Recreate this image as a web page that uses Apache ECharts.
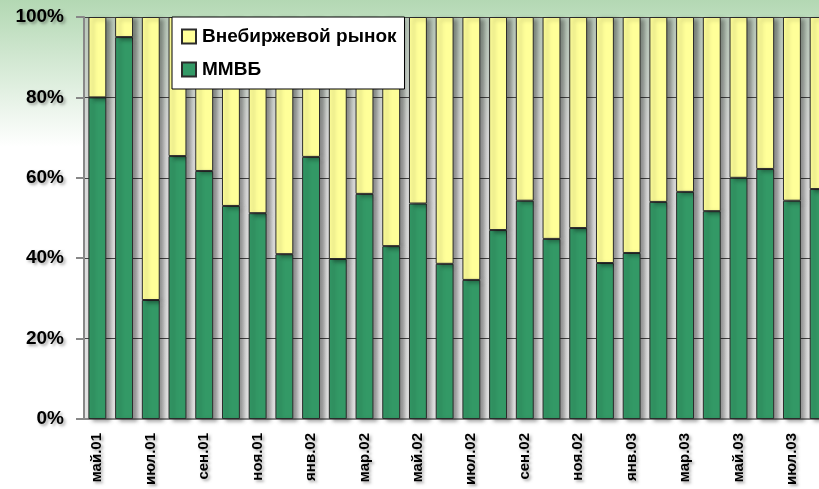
<!DOCTYPE html>
<html>
<head>
<meta charset="utf-8">
<script src="https://cdn.jsdelivr.net/npm/echarts@6/dist/echarts.min.js"></script>
<style>
  html, body { margin: 0; padding: 0; background: #fff; }
  #main { width: 819px; height: 489px; }
</style>
</head>
<body>
<div id="main"></div>
<script>
// месяцы
var months = ['май.01', 'июн.01', 'июл.01', 'авг.01', 'сен.01', 'окт.01', 'ноя.01', 'дек.01',
  'янв.02', 'фев.02', 'мар.02', 'апр.02', 'май.02', 'июн.02', 'июл.02', 'авг.02',
  'сен.02', 'окт.02', 'ноя.02', 'дек.02', 'янв.03', 'фев.03', 'мар.03', 'апр.03',
  'май.03', 'июн.03', 'июл.03', 'авг.03']

// доля ММВБ, %
var mmvb = [80, 95, 29.6, 65.4, 61.7, 53, 51.2, 41, 65.2, 39.8, 56, 43, 53.6, 38.6,
  34.6, 47, 54.3, 44.8, 47.5, 38.8, 41.3, 54, 56.5, 51.7, 60, 62.2, 54.3, 57.2]

// доля внебиржевого рынка, %
var otc = [20, 5, 70.4, 34.6, 38.3, 47, 48.8, 59, 34.8, 60.2, 44, 57, 46.4, 61.4,
  65.4, 53, 45.7, 55.2, 52.5, 61.2, 58.7, 46, 43.5, 48.3, 40, 37.8, 45.7, 42.8]

var yTicks = [0, 20, 40, 60, 80, 100]

var myChart = echarts.init(document.getElementById('main'))

var txtShadow = {
  textShadowColor: 'rgba(0,0,0,0.35)',
  textShadowBlur: 3,
  textShadowOffsetX: 2,
  textShadowOffsetY: 2,
}

var barStyle = {
  borderColor: '#2b2b2b',
  borderWidth: 1,
  shadowColor: 'rgba(0,0,0,0.35)',
  shadowBlur: 4,
  shadowOffsetX: 4,
  shadowOffsetY: 2,
}

var option = {
  animation: false,
  backgroundColor: {
    type: 'linear', x: 0, y: 0, x2: 0, y2: 1,
    colorStops: [
      { offset: 0, color: '#b3d8b3' },
      { offset: 0.3, color: '#ffffff' },
      { offset: 1, color: '#ffffff' },
    ],
  },
  textStyle: { fontFamily: 'Liberation Sans, Arial, sans-serif' },
  legend: {
    orient: 'vertical',
    left: 172,
    top: 17,
    data: ['Внебиржевой рынок', 'ММВБ'],
    icon: 'rect',
    backgroundColor: '#fff',
    borderColor: '#000',
    borderWidth: 1,
    padding: [10, 8, 10, 9],
    itemWidth: 14,
    itemHeight: 14,
    itemGap: 14,
    textStyle: {
      fontSize: 19,
      fontWeight: 'bold',
      color: '#000',
      padding: [0, 0, 0, 1],
    },
  },
  grid: {
    show: true,
    left: 84,
    top: 17,
    bottom: 70,
    width: 748,
    outerBoundsMode: 'none',
    containLabel: false,
    borderWidth: 0,
    backgroundColor: {
      type: 'linear', x: 0, y: 0, x2: 0, y2: 1,
      colorStops: [
        { offset: 0, color: '#b9c9b9' },
        { offset: 0.3, color: '#d9d9d9' },
        { offset: 1, color: '#e4e4e4' },
      ],
    },
  },
  xAxis: {
    type: 'category',
    data: months,
    axisLine: { lineStyle: { color: '#888', width: 2 } },
    axisTick: { interval: 1, length: 6, lineStyle: { color: '#888', width: 2 } },
    axisLabel: Object.assign({
      interval: 1,
      rotate: 90,
      margin: 14,
      fontSize: 15,
      fontWeight: 'bold',
      color: '#000',
    }, txtShadow),
  },
  yAxis: {
    type: 'value',
    min: yTicks[0],
    max: yTicks[yTicks.length - 1],
    interval: 20,
    axisLine: { show: true, lineStyle: { color: '#888', width: 2 } },
    axisTick: { show: true, length: 8, lineStyle: { color: '#888', width: 2 } },
    splitLine: { lineStyle: { color: '#444', width: 1 } },
    axisLabel: Object.assign({
      formatter: '{value}%',
      margin: 20,
      fontSize: 19,
      fontWeight: 'bold',
      color: '#000',
    }, txtShadow),
  },
  series: [
    {
      name: 'ММВБ',
      type: 'bar',
      stack: 'all',
      barCategoryGap: '33%',
      data: mmvb,
      itemStyle: Object.assign({ color: '#339966' }, barStyle),
    },
    {
      name: 'Внебиржевой рынок',
      type: 'bar',
      stack: 'all',
      barCategoryGap: '33%',
      data: otc,
      itemStyle: Object.assign({ color: '#ffff99' }, barStyle),
    },
  ],
}

myChart.setOption(option)
</script>
</body>
</html>
